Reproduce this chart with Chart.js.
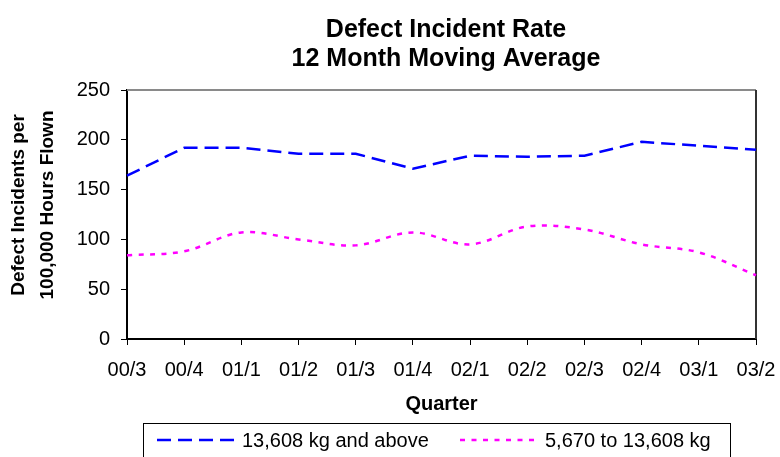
<!DOCTYPE html>
<html lang="en">
<head>
    <meta charset="UTF-8">
    <title>Defect Incident Rate</title>
    <script src="https://cdn.jsdelivr.net/npm/chart.js@4.4.0/dist/chart.umd.min.js"></script>
    <style>
        body { margin: 0; background: #fff; }
        #wrap { width: 780px; height: 457px; position: relative; }
    </style>
</head>
<body>
<div id="wrap"><canvas id="myChart"></canvas></div>

<script>
    var quarters = ['00/3', '00/4', '01/1', '01/2', '01/3', '01/4', '02/1', '02/2', '02/3', '02/4', '03/1', '03/2'];
    var heavyRate = [164, 192, 192, 186, 186, 171, 184, 183, 184, 198, 194, 190];
    var mediumRate = [84, 88, 107, 100, 94, 107, 95, 113, 110, 95, 87, 64];
    var seriesNames = ['13,608 kg and above', '5,670 to 13,608 kg'];
    var titleLines = ['Defect Incident Rate', '12 Month Moving Average'];
    var yTitle = ['Defect Incidents per', '100,000 Hours Flown'];

    Chart.defaults.font.family = '"Liberation Sans", Arial, sans-serif';
    Chart.defaults.color = '#000';

    // title, y title, plot frame and boxed legend, drawn by hand
    var extras = {
        id: 'extras',
        beforeDatasetsDraw: function (chart) {
            var ctx = chart.ctx, a = chart.chartArea;
            ctx.save();
            ctx.lineWidth = 2;
            ctx.strokeStyle = '#8a8a8a';
            ctx.beginPath();
            ctx.moveTo(a.left, a.top);
            ctx.lineTo(a.right, a.top);
            ctx.stroke();
            ctx.strokeStyle = '#333';
            ctx.beginPath();
            ctx.moveTo(a.right, a.top);
            ctx.lineTo(a.right, a.bottom);
            ctx.stroke();
            ctx.restore();
        },
        afterDraw: function (chart) {
            var ctx = chart.ctx;
            ctx.save();
            ctx.fillStyle = '#000';
            ctx.textAlign = 'center';
            ctx.textBaseline = 'middle';
            ctx.font = 'bold 25px "Liberation Sans", Arial, sans-serif';
            ctx.fillText(titleLines[0], 446, 30);
            ctx.fillText(titleLines[1], 446, 59);

            // rotated y axis title
            ctx.font = 'bold 19px "Liberation Sans", Arial, sans-serif';
            ctx.save();
            ctx.translate(0, 205);
            ctx.rotate(-Math.PI / 2);
            ctx.fillText(yTitle[0], 0, 18.5);
            ctx.fillText(yTitle[1], 0, 48);
            ctx.restore();

            // legend box
            ctx.lineWidth = 1;
            ctx.strokeStyle = '#000';
            ctx.strokeRect(143.5, 423.5, 587, 60);

            var items = [{x: 157, tx: 242}, {x: 460, tx: 545}];
            ctx.font = '20px "Liberation Sans", Arial, sans-serif';
            ctx.textAlign = 'left';
            chart.data.datasets.forEach(function (ds, i) {
                ctx.strokeStyle = ds.borderColor;
                ctx.lineWidth = ds.borderWidth;
                ctx.setLineDash(ds.borderDash);
                ctx.beginPath();
                ctx.moveTo(items[i].x, 440);
                ctx.lineTo(items[i].x + 77, 440);
                ctx.stroke();
                ctx.setLineDash([]);
                ctx.fillText(ds.label, items[i].tx, 441);
            });
            ctx.restore();
        }
    };

    var ctx = document.getElementById('myChart').getContext('2d');
    var chart = new Chart(ctx, {
        type: 'line',
        data: {
            labels: quarters,
            datasets: [{
                label: seriesNames[0],
                data: heavyRate,
                borderColor: '#0000ff',
                borderWidth: 2.5,
                borderDash: [14, 7],
                pointRadius: 0,
                tension: 0,
                fill: false
            }, {
                label: seriesNames[1],
                data: mediumRate,
                borderColor: '#ff00ff',
                borderWidth: 2.5,
                borderDash: [5, 6.5],
                pointRadius: 0,
                tension: 0.35,
                fill: false
            }]
        },
        options: {
            responsive: true,
            maintainAspectRatio: false,
            animation: false,
            layout: { padding: { top: 90, right: 24, left: 0, bottom: 0 } },
            plugins: {
                legend: { display: false },
                title: { display: false },
                tooltip: { enabled: false }
            },
            scales: {
                x: {
                    offset: false,
                    afterFit: function (s) {
                        s.height = 118;
                        s.paddingRight = 0;
                    },
                    grid: { drawOnChartArea: false, drawTicks: true, tickLength: 6, color: '#000' },
                    border: { display: true, color: '#000', width: 2 },
                    ticks: { font: { size: 20 }, padding: 13, maxRotation: 0, autoSkip: false },
                    title: {
                        display: true,
                        text: 'Quarter',
                        font: { size: 20, weight: 'bold' },
                        padding: { top: 0, bottom: 41 }
                    }
                },
                y: {
                    min: 0,
                    max: 250,
                    afterFit: function (s) { s.width = 127; },
                    grid: { drawOnChartArea: false, drawTicks: true, tickLength: 6, color: '#000' },
                    border: { display: true, color: '#000', width: 2 },
                    ticks: { stepSize: 50, font: { size: 20 }, padding: 11 }
                }
            }
        },
        plugins: [extras]
    });
</script>
</body>
</html>
